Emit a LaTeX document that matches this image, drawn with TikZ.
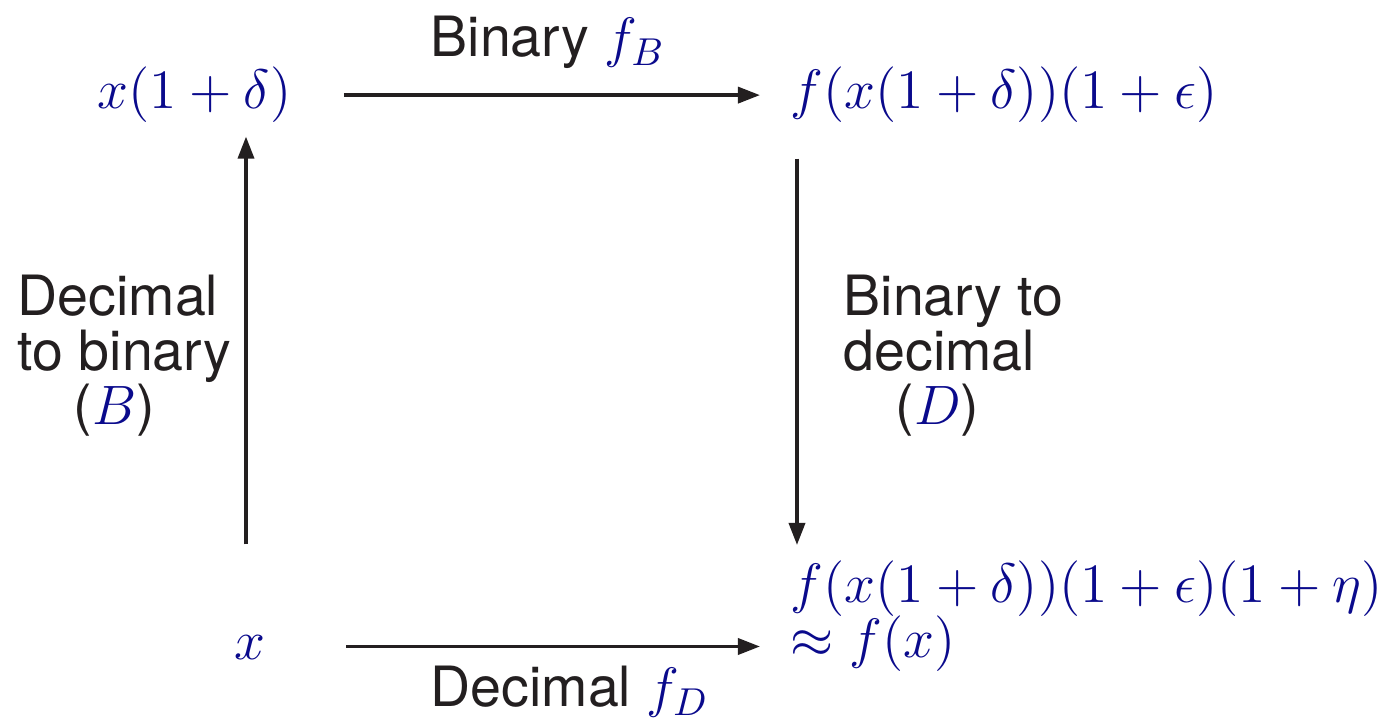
\RequirePackage{fix-cm}
\documentclass[tikz,border=0pt]{standalone}
\usepackage{fontspec}
\setmainfont{TeX Gyre Heros}
\usetikzlibrary{arrows.meta}
\definecolor{mathblue}{RGB}{10,10,140}
\definecolor{inkgray}{RGB}{35,31,32}
\newcommand{\bl}[1]{\textcolor{mathblue}{#1}}
\newcommand{\diagfont}{\fontsize{15.8}{15.6}\selectfont\lineskiplimit=-5pt\relax}

\begin{document}
\begin{tikzpicture}[
  math/.style={inner sep=0pt, text=mathblue, font=\diagfont},
  lbl/.style={inner sep=0pt, text=inkgray, font=\diagfont},
  arrow/.style={-{Triangle[length=2.2mm, width=1.6mm]}, line width=1pt, inkgray}
]
  \useasboundingbox (0,0) rectangle (13.87,7.21);

  \node[math, anchor=base west] (xd) at (0.97,6.12) {$x(1+\delta)$};
  \node[math, anchor=base west] (fxe) at (7.90,6.12) {$f(x(1+\delta))(1+\epsilon)$};
  \node[math, anchor=base, text height=0.41cm, text depth=0.14cm] (x) at (2.50,0.61) {$x$};
  \node[math, anchor=north west, align=left] (fres) at (7.90,1.61) {$f(x(1+\delta))(1+\epsilon)(1+\eta)$\\$\approx f(x)$};

  \draw[arrow, shorten <=5.2mm, shorten >=3mm] (xd) -- (fxe);
  \draw[arrow, shorten <=3.5mm, shorten >=1.5mm] ([xshift=0.7mm]fxe.south west) -- ([xshift=0.7mm]fres.north west);
  \draw[arrow, shorten <=8mm, shorten >=3mm] (x) -- (x -| fres.west);
  \draw[arrow, shorten <=7.4mm, shorten >=1.3mm] ([xshift=-0.4mm]x.north) -- ([xshift=-0.4mm]x.north |- xd.south);

  \node[lbl, anchor=base west] (binlbl) at (4.30,6.64) {Binary \bl{$f_B$}};
  \node[lbl, anchor=base west] (declbl) at (4.30,0.14) {Decimal \bl{$f_D$}};
  \node[lbl, anchor=north west, align=left] (d2b) at (0.17,4.47) {Decimal\\to binary\\\hspace*{0.56cm}(\bl{$B$})};
  \node[lbl, anchor=north west, align=left] (b2d) at (8.43,4.47) {Binary to\\decimal\\\hspace*{0.52cm}(\bl{$D$})};
\end{tikzpicture}
\end{document}
